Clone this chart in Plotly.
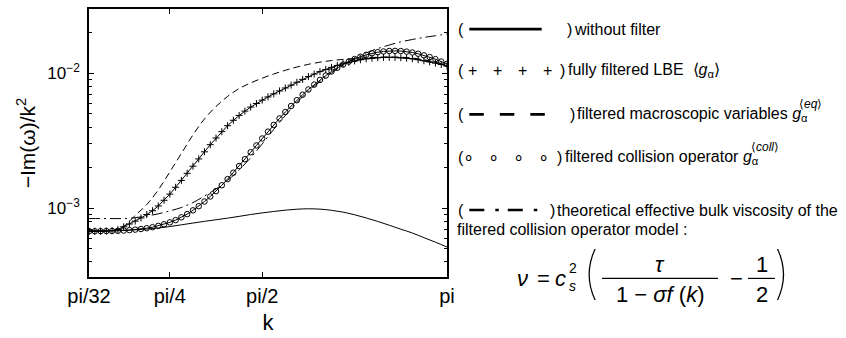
import numpy as np
import plotly.graph_objects as go

# ---------------------------------------------------------------- data
# wavenumber grids: dense grid (step pi/64) for the marked curves,
# coarse grid (step pi/32) for the plain line curves
k_marked = np.pi / 64 * np.arange(2, 65)
k_line = np.pi / 32 * np.arange(1, 33)

# -Im(omega)/k^2, fully filtered LBE <g_alpha>  (+ markers)
nu_fully_filtered = [
    6.74e-4, 6.74e-4, 6.75e-4, 6.77e-4, 6.82e-4, 6.93e-4, 7.27e-4, 7.63e-4,
    8.01e-4, 8.46e-4, 8.97e-4, 9.57e-4, 1.038e-3, 1.144e-3, 1.271e-3, 1.428e-3,
    1.606e-3, 1.814e-3, 2.048e-3, 2.319e-3, 2.619e-3, 2.957e-3, 3.316e-3, 3.696e-3,
    4.093e-3, 4.488e-3, 4.875e-3, 5.250e-3, 5.622e-3, 5.977e-3, 6.333e-3, 6.692e-3,
    7.050e-3, 7.413e-3, 7.795e-3, 8.182e-3, 8.601e-3, 9.031e-3, 9.465e-3, 9.887e-3,
    1.031e-2, 1.070e-2, 1.109e-2, 1.146e-2, 1.179e-2, 1.210e-2, 1.238e-2, 1.262e-2,
    1.283e-2, 1.297e-2, 1.308e-2, 1.315e-2, 1.317e-2, 1.315e-2, 1.308e-2, 1.297e-2,
    1.283e-2, 1.264e-2, 1.242e-2, 1.218e-2, 1.193e-2, 1.164e-2, 1.133e-2,
]

# filtered collision operator g_alpha^<coll>  (o markers)
nu_coll_filtered = [
    6.74e-4, 6.74e-4, 6.75e-4, 6.76e-4, 6.77e-4, 6.79e-4, 6.82e-4, 6.87e-4,
    6.93e-4, 7.00e-4, 7.10e-4, 7.22e-4, 7.39e-4, 7.59e-4, 7.84e-4, 8.15e-4,
    8.55e-4, 9.03e-4, 9.63e-4, 1.034e-3, 1.120e-3, 1.220e-3, 1.338e-3, 1.479e-3,
    1.643e-3, 1.834e-3, 2.054e-3, 2.308e-3, 2.598e-3, 2.922e-3, 3.289e-3, 3.696e-3,
    4.146e-3, 4.636e-3, 5.168e-3, 5.731e-3, 6.326e-3, 6.949e-3, 7.597e-3, 8.263e-3,
    8.946e-3, 9.634e-3, 1.033e-2, 1.100e-2, 1.164e-2, 1.224e-2, 1.279e-2, 1.330e-2,
    1.373e-2, 1.409e-2, 1.437e-2, 1.455e-2, 1.467e-2, 1.470e-2, 1.465e-2, 1.451e-2,
    1.430e-2, 1.400e-2, 1.362e-2, 1.321e-2, 1.275e-2, 1.224e-2, 1.176e-2,
]

# without filter  (solid line)
nu_no_filter = [
    6.74e-4, 6.75e-4, 6.78e-4, 6.84e-4, 6.91e-4, 7.00e-4, 7.12e-4, 7.30e-4,
    7.52e-4, 7.75e-4, 7.98e-4, 8.20e-4, 8.43e-4, 8.69e-4, 8.97e-4, 9.22e-4,
    9.45e-4, 9.66e-4, 9.82e-4, 9.89e-4, 9.83e-4, 9.64e-4, 9.34e-4, 8.93e-4,
    8.46e-4, 7.97e-4, 7.47e-4, 6.98e-4, 6.54e-4, 6.04e-4, 5.59e-4, 5.15e-4,
]

# filtered macroscopic variables g_alpha^<eq>  (dashed line)
nu_eq_filtered = [
    6.74e-4, 6.75e-4, 6.82e-4, 7.33e-4, 8.83e-4, 1.063e-3, 1.366e-3, 1.858e-3,
    2.548e-3, 3.493e-3, 4.599e-3, 5.675e-3, 6.747e-3, 7.720e-3, 8.500e-3, 9.220e-3,
    9.900e-3, 1.055e-2, 1.115e-2, 1.168e-2, 1.212e-2, 1.245e-2, 1.270e-2, 1.290e-2,
    1.306e-2, 1.318e-2, 1.323e-2, 1.319e-2, 1.300e-2, 1.264e-2, 1.212e-2, 1.150e-2,
]

# theoretical effective bulk viscosity  (dash-dot line)
nu_theory = [
    8.37e-4, 8.37e-4, 8.37e-4, 8.37e-4, 8.50e-4, 8.74e-4, 9.07e-4, 9.54e-4,
    1.011e-3, 1.099e-3, 1.230e-3, 1.389e-3, 1.606e-3, 1.919e-3, 2.369e-3, 2.996e-3,
    3.849e-3, 4.867e-3, 6.075e-3, 7.377e-3, 8.714e-3, 1.008e-2, 1.151e-2, 1.295e-2,
    1.421e-2, 1.528e-2, 1.625e-2, 1.714e-2, 1.785e-2, 1.849e-2, 1.904e-2, 1.957e-2,
]

x_tick_vals = [np.pi / 32, np.pi / 4, np.pi / 2, np.pi]
x_tick_text = ["pi/32", "pi/4", "pi/2", "pi"]
y_tick_vals = [1e-3, 1e-2]
y_tick_text = ["10<sup>−3</sup>", "10<sup>−2</sup>"]
y_minor_vals = [4e-4, 5e-4, 6e-4, 7e-4, 8e-4, 9e-4,
                2e-3, 3e-3, 4e-3, 5e-3, 6e-3, 7e-3, 8e-3, 9e-3, 2e-2]

# ---------------------------------------------------------------- layout helpers
FIG_W, FIG_H = 846, 338
M_L, M_R, M_T, M_B = 89, 399, 7, 48
PLOT_W = FIG_W - M_L - M_R
PLOT_H = FIG_H - M_T - M_B
FONT = "Liberation Sans, Arial, Helvetica, sans-serif"
THIN = "Inter, Noto Sans, DejaVu Sans, sans-serif"


def px(x):
    """figure pixel column -> paper x"""
    return (x - M_L) / PLOT_W


def py(y):
    """figure pixel row (from top) -> paper y"""
    return (FIG_H - M_B - y) / PLOT_H


fig = go.Figure()

fig.add_trace(go.Scatter(
    x=k_line, y=nu_eq_filtered, mode="lines", line_shape="spline",
    line=dict(color="black", width=1, dash="7px,4px"), hoverinfo="skip"))
fig.add_trace(go.Scatter(
    x=k_line, y=nu_theory, mode="lines", line_shape="spline",
    line=dict(color="black", width=1, dash="11px,4px,2px,4px"), hoverinfo="skip"))
fig.add_trace(go.Scatter(
    x=k_line, y=nu_no_filter, mode="lines", line_shape="spline",
    line=dict(color="black", width=1), hoverinfo="skip"))
fig.add_trace(go.Scatter(
    x=k_marked, y=nu_fully_filtered, mode="lines+markers",
    line=dict(color="black", width=1),
    marker=dict(symbol="cross-thin-open", size=5, line=dict(color="black", width=1)),
    hoverinfo="skip"))
fig.add_trace(go.Scatter(
    x=k_marked, y=nu_coll_filtered, mode="lines+markers",
    line=dict(color="black", width=1),
    marker=dict(symbol="circle-open", size=5.5, color="black",
                line=dict(color="black", width=1)),
    hoverinfo="skip"))

annotations = []
shapes = []


def text(x, y, s, size=16, anchor="left", family=FONT, weight=None):
    font = dict(family=family, size=size, color="black")
    if weight is not None:
        font["weight"] = weight
    annotations.append(dict(
        x=px(x), y=py(y), xref="paper", yref="paper", text=s, showarrow=False,
        xanchor=anchor, yanchor="middle", font=font))


def hline(x0, x1, y, width, dash="solid"):
    shapes.append(dict(type="line", xref="paper", yref="paper",
                       x0=px(x0), x1=px(x1), y0=py(y), y1=py(y),
                       line=dict(color="black", width=width, dash=dash)))


# --- key row 1: without filter
text(455.5, 28.3, "(")
hline(469.3, 541.7, 28.3, 2.6)
text(565, 28.3, ")")
text(571.7, 28.3, "without filter")

# --- key row 2: fully filtered LBE
text(455.5, 71.7, "(")
for cx in (472.3, 497.3, 522.3, 547.3):
    text(cx, 71.7, "+", anchor="center")
text(558.3, 71.7, ")")
text(566, 71.7, "fully filtered LBE  ⟨<i>g</i><sub>α</sub>⟩")

# --- key row 3: filtered macroscopic variables
text(455.5, 118.3, "(")
hline(469.3, 545, 118.3, 2.6, dash="14.5px,16px")
text(568.3, 118.3, ")")
text(575, 118.3, "filtered macroscopic variables <i>g</i><sub>α</sub>")
text(797, 107.5, "⟨<i>eq</i>⟩", size=12)

# --- key row 4: filtered collision operator
text(455.5, 163.3, "(")
for cx in (468.3, 493.3, 518.3, 543.3):
    text(cx, 163.3, "∘", anchor="center", size=18)
text(555, 163.3, ")")
text(563.3, 163.3, "filtered collision operator <i>g</i><sub>α</sub>")
text(749, 152.5, "⟨<i>coll</i>⟩", size=12)

# --- key row 5: theoretical viscosity
text(455.5, 219.3, "(")
hline(469.3, 538.3, 219.3, 2.6, dash="15px,11px,3.5px,9px")
text(548.3, 219.3, ")")
text(555, 219.3, "theoretical effective bulk viscosity of the")
text(455, 240, "filtered collision operator model :")

# --- formula  nu = c_s^2 ( tau / (1 - sigma f(k)) - 1/2 )
text(522, 292, "<i>ν</i>", size=22, anchor="center")
text(543, 292, "=", size=22, anchor="center")
text(560, 292, "<i>c</i>", size=22, anchor="center")
text(572.5, 280, "2", size=14, anchor="center")
text(572.5, 300, "<i>s</i>", size=14, anchor="center")
text(590.8, 285, "(", size=56, anchor="center", family=THIN, weight=100)
text(660, 277, "<i>τ</i>", size=22, anchor="center")
hline(602, 718, 291.5, 1.2)
text(660, 309, "1 − <i>σf</i> (<i>k</i>)", size=22, anchor="center")
text(736, 292, "−", size=22, anchor="center")
text(761.5, 277, "1", size=22, anchor="center")
hline(748, 775, 291.5, 1.2)
text(761.5, 309, "2", size=22, anchor="center")
text(781.7, 285, ")", size=56, anchor="center", family=THIN, weight=100)

fig.update_layout(
    width=FIG_W, height=FIG_H,
    margin=dict(l=M_L, r=M_R, t=M_T, b=M_B, pad=0),
    paper_bgcolor="white", plot_bgcolor="white",
    showlegend=False,
    font=dict(family=FONT, color="black"),
    annotations=annotations,
    shapes=shapes,
)

fig.update_xaxes(
    range=[np.pi / 32, np.pi], tickvals=x_tick_vals, ticktext=x_tick_text,
    ticks="inside", ticklen=5, tickwidth=1, tickcolor="black",
    showline=True, linecolor="black", linewidth=1.5, mirror="ticks",
    showgrid=False, zeroline=False,
    tickfont=dict(size=20, family=FONT, color="black"),
    title=dict(text="k", font=dict(size=22, family=FONT, color="black"), standoff=9),
)

fig.update_yaxes(
    type="log", range=[-3.511, -1.522], tickvals=y_tick_vals, ticktext=y_tick_text,
    ticks="inside", ticklen=5, tickwidth=1, tickcolor="black",
    minor=dict(tickvals=y_minor_vals, ticks="inside", ticklen=3, tickwidth=1,
               tickcolor="black", showgrid=False),
    showline=True, linecolor="black", linewidth=1.5, mirror="ticks",
    showgrid=False, zeroline=False,
    tickfont=dict(size=17, family=FONT, color="black"),
    ticklabelstandoff=4,
    title=dict(text="−Im(ω)/k<sup>2</sup>", font=dict(size=21, family=FONT, color="black"),
               standoff=6),
)

fig.write_html("out.html")
